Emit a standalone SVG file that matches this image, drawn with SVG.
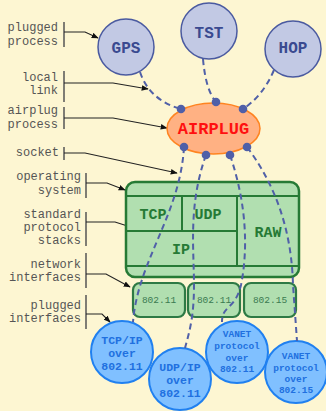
<svg xmlns="http://www.w3.org/2000/svg" width="326" height="411" viewBox="0 0 326 411">
  <style>
    .lbl { font-family: "Liberation Mono", "DejaVu Sans Mono", monospace; font-size: 12px; fill: #555; text-anchor: end; }
    .bar { stroke: #555; stroke-width: 1.5; fill: none; }
    .ptr { stroke: #222; stroke-width: 1.1; fill: none; marker-end: url(#ah); }
    .proc circle { fill: #c2c9e4; stroke: #4a5aa0; stroke-width: 1.5; }
    .proc text { font-family: "Liberation Mono", monospace; font-weight: bold; font-size: 16px; fill: #3a4a90; text-anchor: middle; }
    .os { fill: #b1dfb0; stroke: #267a35; stroke-width: 2.5; }
    .osline { stroke: #267a35; stroke-width: 2; fill: none; }
    .ostxt { font-family: "Liberation Mono", monospace; font-weight: bold; font-size: 15px; fill: #267a35; text-anchor: middle; }
    .nif rect { fill: #b1dfb0; stroke: #2e7a45; stroke-width: 2.2; }
    .nif text { font-family: "Liberation Mono", monospace; font-size: 9.5px; fill: #3a7a50; text-anchor: middle; }
    .pif circle { fill: #80c0ff; stroke: #2080f0; stroke-width: 2; }
    .pif text { font-family: "Liberation Mono", monospace; font-weight: bold; fill: #2070e0; text-anchor: middle; }
    .link { stroke: #5060a8; stroke-width: 2; stroke-dasharray: 6 4; fill: none; }
    .dot { fill: #4f5fa8; }
  </style>
  <defs>
    <marker id="ah" viewBox="0 0 10 10" refX="9" refY="5" markerWidth="7" markerHeight="7" orient="auto" markerUnits="userSpaceOnUse">
      <path d="M0,1 L10,5 L0,9 z" fill="#111"/>
    </marker>
  </defs>

  <rect width="326" height="411" fill="#fdf6d2"/>

  <!-- legend labels on the left -->
  <g id="legend">
    <text class="lbl" x="58" y="31">plugged</text>
    <text class="lbl" x="58" y="45">process</text>
    <path class="bar" d="M64,22 V47"/>
    <path class="ptr" d="M64,32 H85 L98,38"/>

    <text class="lbl" x="58" y="80.5">local</text>
    <text class="lbl" x="58" y="93.5">link</text>
    <path class="bar" d="M64,71 V102"/>
    <path class="ptr" d="M64,83 H113 L148,89"/>

    <text class="lbl" x="58" y="114">airplug</text>
    <text class="lbl" x="58" y="128">process</text>
    <path class="bar" d="M64,107 V129"/>
    <path class="ptr" d="M64,118 H113 L167,128"/>

    <text class="lbl" x="59" y="156">socket</text>
    <path class="bar" d="M64,147 V160"/>
    <path class="ptr" d="M64,153 H85 L177,173"/>

    <text class="lbl" x="81" y="180">operating</text>
    <text class="lbl" x="81" y="194">system</text>
    <path class="bar" d="M86,173 V198"/>
    <path class="ptr" d="M86,183 H107 L125,190"/>

    <text class="lbl" x="81" y="218">standard</text>
    <text class="lbl" x="81" y="231">protocol</text>
    <text class="lbl" x="81" y="244">stacks</text>
    <path class="bar" d="M86,212 V246"/>
    <path class="ptr" d="M86,222 H115 L137,229"/>

    <text class="lbl" x="81" y="267.5">network</text>
    <text class="lbl" x="81" y="280.5">interfaces</text>
    <path class="bar" d="M86,253 V288"/>
    <path class="ptr" d="M86,274 H106 L130,287"/>

    <text class="lbl" x="81" y="309">plugged</text>
    <text class="lbl" x="81" y="322">interfaces</text>
    <path class="bar" d="M86,295 V329"/>
    <path class="ptr" d="M86,314 H102 L110,322"/>
  </g>

  <!-- operating system with protocol stacks -->
  <g id="os">
    <rect class="os" x="126" y="182" width="173" height="95" rx="9"/>
    <path class="osline" d="M126,196 H299 M126,266 H299 M237,196 V266 M182,196 V231 M126,231 H237"/>
    <text class="ostxt" x="153" y="219">TCP</text>
    <text class="ostxt" x="208" y="219">UDP</text>
    <text class="ostxt" x="181" y="254">IP</text>
    <text class="ostxt" x="268" y="237">RAW</text>
  </g>

  <!-- network interfaces -->
  <g id="nif1" class="nif">
    <rect x="133" y="283" width="52" height="34" rx="7"/>
    <text x="159" y="303">802.11</text>
  </g>
  <g id="nif2" class="nif">
    <rect x="188" y="283" width="52" height="34" rx="7"/>
    <text x="214" y="303">802.11</text>
  </g>
  <g id="nif3" class="nif">
    <rect x="244" y="283" width="52" height="34" rx="7"/>
    <text x="270" y="303">802.15</text>
  </g>

  <!-- plugged processes -->
  <g id="gps" class="proc">
    <circle cx="126" cy="47" r="28"/>
    <text x="126" y="53">GPS</text>
  </g>
  <g id="tst" class="proc">
    <circle cx="209" cy="31" r="28"/>
    <text x="209" y="38">TST</text>
  </g>
  <g id="hop" class="proc">
    <circle cx="293" cy="49" r="28"/>
    <text x="293" y="53">HOP</text>
  </g>

  <!-- plugged interfaces -->
  <g id="tcpip" class="pif">
    <circle cx="122" cy="352" r="31"/>
    <text x="122" y="344" font-size="11.5">TCP/IP</text>
    <text x="122" y="357" font-size="11.5">over</text>
    <text x="122" y="370" font-size="11.5">802.11</text>
  </g>
  <g id="udpip" class="pif">
    <circle cx="180" cy="379" r="31"/>
    <text x="180" y="371" font-size="11.5">UDP/IP</text>
    <text x="180" y="384" font-size="11.5">over</text>
    <text x="180" y="397" font-size="11.5">802.11</text>
  </g>
  <g id="vanet11" class="pif">
    <circle cx="237" cy="352" r="31"/>
    <text x="237" y="337" font-size="9.5">VANET</text>
    <text x="237" y="349" font-size="9.5">protocol</text>
    <text x="237" y="361" font-size="9.5">over</text>
    <text x="237" y="372" font-size="9.5">802.11</text>
  </g>
  <g id="vanet15" class="pif">
    <circle cx="296" cy="372" r="31"/>
    <text x="296" y="359" font-size="9.5">VANET</text>
    <text x="296" y="371" font-size="9.5">protocol</text>
    <text x="296" y="382" font-size="9.5">over</text>
    <text x="296" y="393" font-size="9.5">802.15</text>
  </g>

  <!-- dashed links: local links above, sockets below -->
  <g id="connectors">
    <path class="link" d="M140,72 C147,93 163,104 181,109"/>
    <path class="link" d="M203,59 C205,82 210,95 216,102"/>
    <path class="link" d="M274,70 C266,89 255,101 243,109"/>
    <path class="link" d="M184,147 C180,215 138,260 133,322"/>
    <path class="link" d="M206,155 C188,205 194,250 194,285 C194,315 190,330 185,348"/>
    <path class="link" d="M230,155 C247,205 248,250 241,285 C235,310 222,305 222,322"/>
    <path class="link" d="M247,147 C283,195 292,245 293,285 L297,341"/>
  </g>

  <!-- airplug process with its sockets -->
  <g id="airplug">
    <ellipse cx="213.5" cy="128.5" rx="46.5" ry="25.5" fill="#ffb183" stroke="#ff8420" stroke-width="1.5"/>
    <text x="213.5" y="134" font-family="Liberation Mono, monospace" font-weight="bold" font-size="17px" fill="#ff1010" text-anchor="middle">AIRPLUG</text>
    <circle class="dot" cx="181" cy="109" r="4.3"/>
    <circle class="dot" cx="216" cy="102" r="4.3"/>
    <circle class="dot" cx="243" cy="109" r="4.3"/>
    <circle class="dot" cx="184" cy="147" r="4.3"/>
    <circle class="dot" cx="206" cy="155" r="4.3"/>
    <circle class="dot" cx="230" cy="155" r="4.3"/>
    <circle class="dot" cx="247" cy="147" r="4.3"/>
  </g>
</svg>
